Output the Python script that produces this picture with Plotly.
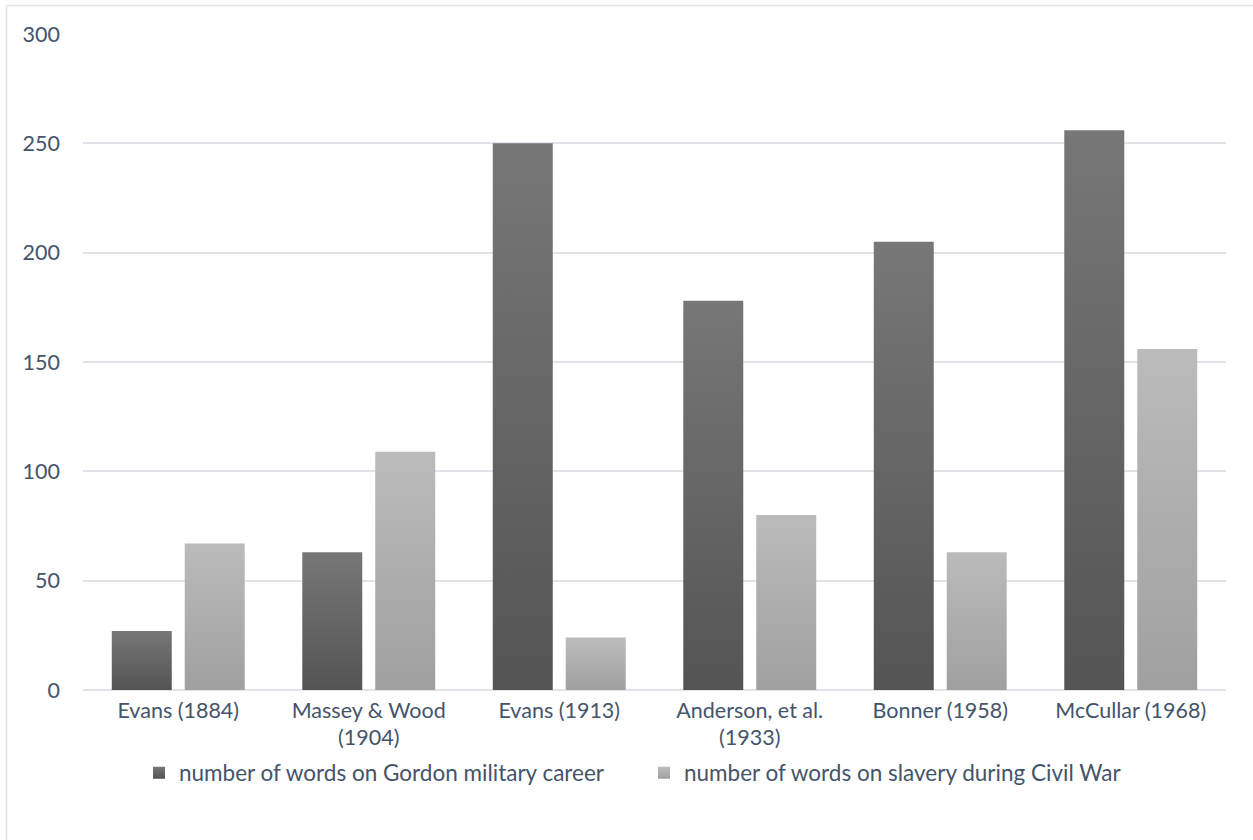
import plotly.graph_objects as go

# Word counts per textbook
categories = [
    "Evans (1884)",
    "Massey & Wood<br>(1904)",
    "Evans (1913)",
    "Anderson, et al.<br>(1933)",
    "Bonner (1958)",
    "McCullar (1968)",
]
military_words = [27, 63, 250, 178, 205, 256]
slavery_words = [67, 109, 24, 80, 63, 156]
series_names = [
    "number of words on Gordon military career",
    "number of words on slavery during Civil War",
]
y_ticks = [0, 50, 100, 150, 200, 250, 300]

TEXT = "#44546A"
GRID = "#E0E4EA"
FONT = "Lato, 'Open Sans', sans-serif"

W, H = 1253, 840
L, R, T, B = 83, 1253 - 1226, 34, 840 - 690
pw, ph = W - L - R, H - T - B


def px_x(x):
    return (x - L) / pw


def px_y(y):
    return (H - B - y) / ph


fig = go.Figure()
fig.add_trace(go.Bar(x=categories, y=military_words, name=series_names[0],
                     marker=dict(color="#666666", line=dict(width=0))))
fig.add_trace(go.Bar(x=categories, y=slavery_words, name=series_names[1],
                     marker=dict(color="#AEAEAE", line=dict(width=0))))

fig.update_layout(
    width=W, height=H,
    margin=dict(l=L, r=R, t=T, b=B, pad=0),
    paper_bgcolor="white", plot_bgcolor="white",
    barmode="group", bargap=0.234, bargroupgap=0.178,
    font=dict(family=FONT, size=21.5, color=TEXT),
    showlegend=True,
    legend=dict(orientation="h", x=px_x(139), xanchor="left",
                y=px_y(773), yanchor="middle",
                font=dict(family=FONT, size=22.5, color=TEXT),
                itemwidth=30, entrywidth=460, traceorder="normal"),
    xaxis=dict(showgrid=False, showline=False, ticks="",
               tickfont=dict(family=FONT, size=21.5, color=TEXT),
               ticklabelstandoff=5),
    yaxis=dict(range=[0, 300], tickvals=y_ticks, showgrid=True,
               gridcolor=GRID, gridwidth=1.5, zeroline=True,
               zerolinecolor=GRID, zerolinewidth=1.5, showline=False,
               ticks="", ticklabelstandoff=22,
               tickfont=dict(family=FONT, size=21.5, color=TEXT)),
    shapes=[
        dict(type="line", xref="paper", yref="paper",
             x0=px_x(6.5), x1=px_x(1260), y0=px_y(5.5), y1=px_y(5.5),
             line=dict(color=GRID, width=1.5)),
        dict(type="line", xref="paper", yref="paper",
             x0=px_x(6.5), x1=px_x(6.5), y0=px_y(5.5), y1=px_y(850),
             line=dict(color=GRID, width=1.5)),
    ],
)

# Vertical shading on each bar, lighter at the top
post = """
var gd = document.getElementById('{plot_id}');
function shadeBars() {
  var ns = 'http://www.w3.org/2000/svg';
  var svg = gd.querySelector('svg.main-svg');
  if (!svg) return;
  var defs = svg.querySelector('defs');
  function mk(id, top, bot) {
    if (document.getElementById(id)) return;
    var g = document.createElementNS(ns, 'linearGradient');
    g.setAttribute('id', id);
    g.setAttribute('x1', '0'); g.setAttribute('y1', '0');
    g.setAttribute('x2', '0'); g.setAttribute('y2', '1');
    [[0, top], [1, bot]].forEach(function (s) {
      var st = document.createElementNS(ns, 'stop');
      st.setAttribute('offset', s[0]);
      st.setAttribute('stop-color', s[1]);
      g.appendChild(st);
    });
    defs.appendChild(g);
  }
  mk('shadeDark', '#777777', '#545454');
  mk('shadeLight', '#BBBBBB', '#A0A0A0');
  var ids = ['shadeDark', 'shadeLight'];
  gd.querySelectorAll('g.barlayer g.trace.bars').forEach(function (t, i) {
    t.querySelectorAll('path').forEach(function (p) {
      p.style.fill = 'url(#' + ids[i] + ')';
    });
  });
  gd.querySelectorAll('g.legend g.traces').forEach(function (t, i) {
    t.querySelectorAll('path.legendundefined, g.legendpoints path').forEach(function (p) {
      p.style.fill = 'url(#' + ids[i] + ')';
    });
  });
}
shadeBars();
gd.on('plotly_afterplot', shadeBars);
"""

fig.write_html("out.html", post_script=post)
